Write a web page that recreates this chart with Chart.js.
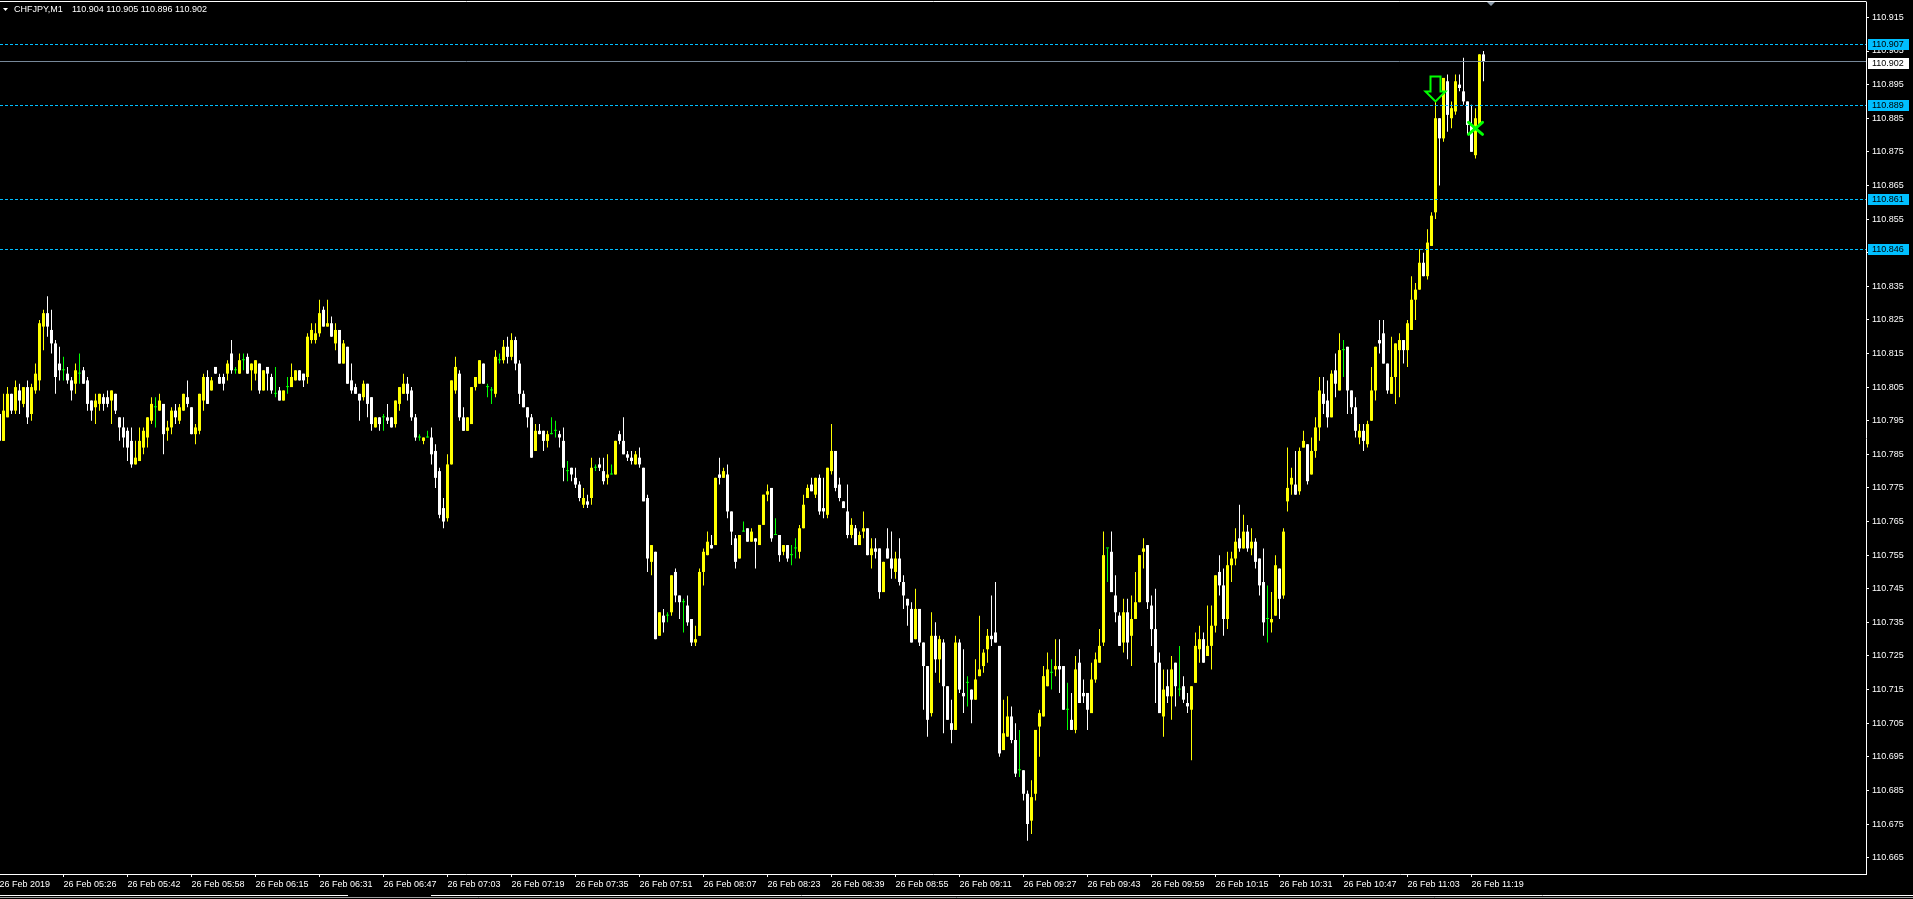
<!DOCTYPE html>
<html><head><meta charset="utf-8">
<script src="https://cdn.jsdelivr.net/npm/chart.js@4.4.1/dist/chart.umd.min.js"></script>
<style>
html,body{margin:0;padding:0;background:#000;overflow:hidden}
#wrap{position:absolute;left:0;top:0;width:1913px;height:899px}
canvas{display:block}
</style></head><body>
<div id="wrap"><canvas id="c" width="1913" height="899"></canvas></div>
<script>
// ---------------- data (CHFJPY, M1, 26 Feb 2019 05:10 .. 11:21) ----------------
const chartSymbol = "CHFJPY,M1";
const chartOHLC = "110.904 110.905 110.896 110.902";

const openP = [
110.797,110.789,110.796,110.803,110.798,110.804,110.800,110.805,110.797,110.804,
110.807,110.823,110.827,110.822,110.818,110.812,110.810,110.809,110.807,110.806,
110.809,110.810,110.807,110.801,110.799,110.800,110.802,110.802,110.801,110.803,
110.796,110.793,110.792,110.789,110.782,110.783,110.787,110.790,110.795,110.799,
110.798,110.800,110.792,110.793,110.798,110.795,110.798,110.802,110.799,110.791,
110.792,110.801,110.808,110.804,110.811,110.808,110.808,110.809,110.815,110.810,
110.809,110.813,110.814,110.810,110.809,110.812,110.804,110.811,110.808,110.803,
110.804,110.801,110.805,110.805,110.807,110.810,110.809,110.808,110.819,110.819,
110.821,110.828,110.823,110.824,110.818,110.822,110.812,110.817,110.807,110.805,
110.803,110.802,110.806,110.802,110.793,110.796,110.796,110.796,110.796,110.794,
110.800,110.803,110.806,110.804,110.796,110.790,110.789,110.790,110.790,110.786,
110.780,110.769,110.766,110.782,110.804,110.809,110.796,110.792,110.794,110.805,
110.806,110.812,110.805,110.804,110.803,110.813,110.813,110.817,110.814,110.819,
110.812,110.803,110.799,110.796,110.786,110.792,110.792,110.789,110.791,110.792,
110.791,110.789,110.780,110.781,110.778,110.776,110.770,110.771,110.772,110.781,
110.782,110.780,110.778,110.779,110.779,110.791,110.789,110.785,110.784,110.782,
110.784,110.781,110.772,110.753,110.756,110.731,110.737,110.737,110.738,110.750,
110.743,110.741,110.740,110.736,110.729,110.731,110.750,110.755,110.758,110.758,
110.779,110.778,110.779,110.768,110.760,110.754,110.762,110.763,110.759,110.760,
110.758,110.764,110.773,110.775,110.761,110.761,110.756,110.758,110.755,110.757,
110.756,110.763,110.772,110.776,110.773,110.778,110.769,110.767,110.780,110.786,
110.776,110.771,110.768,110.761,110.763,110.758,110.762,110.763,110.755,110.757,
110.757,110.744,110.757,110.754,110.750,110.754,110.747,110.742,110.739,110.730,
110.739,110.729,110.722,110.708,110.731,110.724,110.729,110.716,110.705,110.703,
110.729,110.714,110.717,110.715,110.712,110.719,110.722,110.727,110.731,110.732,
110.728,110.697,110.701,110.707,110.700,110.691,110.691,110.684,110.676,110.684,
110.704,110.707,110.716,110.720,110.721,110.722,110.722,110.709,110.706,110.703,
110.723,110.714,110.714,110.708,110.718,110.723,110.729,110.757,110.756,110.743,
110.737,110.729,110.738,110.731,110.736,110.741,110.756,110.758,110.740,110.733,
110.723,110.707,110.716,110.713,110.723,110.715,110.716,110.711,110.709,110.717,
110.727,110.730,110.725,110.728,110.734,110.750,110.746,110.736,110.752,110.754,
110.760,110.757,110.762,110.757,110.759,110.754,110.747,110.736,110.735,110.737,
110.751,110.743,110.771,110.776,110.776,110.774,110.787,110.788,110.779,110.786,
110.793,110.803,110.801,110.796,110.810,110.804,110.816,110.817,110.804,110.799,
110.790,110.792,110.788,110.795,110.804,110.819,110.821,110.812,110.803,110.808,
110.816,110.819,110.816,110.822,110.831,110.834,110.842,110.838,110.847,110.857,
110.885,110.879,110.896,110.885,110.887,110.895,110.893,110.890,110.883,110.874,
110.883,110.904];

const highP = [
110.797,110.803,110.805,110.803,110.807,110.806,110.805,110.807,110.806,110.812,
110.825,110.828,110.832,110.828,110.819,110.817,110.814,110.811,110.808,110.812,
110.815,110.811,110.808,110.801,110.803,110.803,110.803,110.804,110.804,110.803,
110.796,110.796,110.793,110.793,110.789,110.793,110.793,110.796,110.802,110.802,
110.803,110.800,110.795,110.799,110.800,110.800,110.803,110.807,110.799,110.794,
110.803,110.809,110.810,110.808,110.811,110.809,110.809,110.813,110.819,110.811,
110.815,110.815,110.815,110.812,110.813,110.812,110.810,110.811,110.809,110.811,
110.805,110.804,110.808,110.812,110.810,110.810,110.809,110.821,110.824,110.824,
110.831,110.829,110.831,110.826,110.824,110.822,110.819,110.817,110.812,110.806,
110.803,110.807,110.806,110.802,110.796,110.796,110.797,110.800,110.796,110.801,
110.805,110.809,110.808,110.805,110.797,110.791,110.790,110.792,110.793,110.788,
110.781,110.772,110.785,110.807,110.814,110.810,110.799,110.796,110.805,110.808,
110.813,110.812,110.806,110.805,110.816,110.815,110.819,110.820,110.821,110.820,
110.813,110.804,110.799,110.797,110.794,110.794,110.792,110.792,110.796,110.795,
110.792,110.793,110.783,110.781,110.781,110.777,110.775,110.773,110.784,110.782,
110.784,110.784,110.785,110.782,110.789,110.792,110.796,110.786,110.786,110.786,
110.787,110.781,110.773,110.758,110.756,110.738,110.739,110.738,110.749,110.751,
110.743,110.742,110.743,110.736,110.734,110.751,110.757,110.762,110.761,110.778,
110.784,110.781,110.782,110.768,110.761,110.761,110.765,110.763,110.763,110.760,
110.764,110.773,110.776,110.775,110.766,110.761,110.758,110.758,110.758,110.760,
110.764,110.773,110.776,110.778,110.778,110.779,110.778,110.781,110.794,110.786,
110.778,110.771,110.776,110.766,110.764,110.762,110.768,110.763,110.760,110.760,
110.757,110.753,110.763,110.762,110.756,110.760,110.749,110.742,110.741,110.745,
110.739,110.729,110.722,110.738,110.735,110.731,110.730,110.716,110.712,110.731,
110.730,110.727,110.719,110.715,110.724,110.737,110.727,110.733,110.743,110.747,
110.728,110.712,110.713,110.710,110.705,110.703,110.691,110.685,110.688,110.703,
110.709,110.722,110.726,110.724,110.730,110.730,110.722,110.717,110.714,110.725,
110.727,110.718,110.714,110.723,110.726,110.733,110.762,110.757,110.762,110.749,
110.738,110.742,110.742,110.743,110.750,110.755,110.760,110.758,110.743,110.745,
110.726,110.721,110.721,110.725,110.723,110.728,110.719,110.714,110.716,110.732,
110.734,110.732,110.740,110.740,110.749,110.755,110.751,110.756,110.756,110.763,
110.770,110.767,110.764,110.763,110.760,110.754,110.757,110.746,110.744,110.755,
110.751,110.763,110.787,110.781,110.786,110.787,110.792,110.788,110.790,110.796,
110.808,110.808,110.807,110.810,110.815,110.821,110.819,110.817,110.804,110.802,
110.794,110.794,110.795,110.811,110.817,110.825,110.825,110.812,110.820,110.818,
110.821,110.819,110.825,110.838,110.836,110.846,110.845,110.852,110.857,110.890,
110.885,110.897,110.898,110.890,110.898,110.898,110.903,110.890,110.889,110.888,
110.904,110.905];

const lowP = [
110.788,110.789,110.796,110.797,110.797,110.797,110.799,110.794,110.795,110.803,
110.804,110.816,110.820,110.815,110.803,110.807,110.807,110.806,110.801,110.803,
110.806,110.806,110.798,110.795,110.794,110.798,110.798,110.799,110.794,110.797,
110.789,110.787,110.783,110.781,110.782,110.783,110.785,110.787,110.794,110.793,
110.798,110.785,110.789,110.791,110.794,110.794,110.798,110.799,110.791,110.788,
110.791,110.798,110.800,110.804,110.809,110.806,110.804,110.807,110.809,110.809,
110.809,110.810,110.809,110.804,110.807,110.803,110.804,110.804,110.803,110.802,
110.801,110.801,110.803,110.805,110.807,110.807,110.805,110.806,110.818,110.818,
110.820,110.823,110.823,110.820,110.816,110.812,110.812,110.806,110.803,110.803,
110.795,110.801,110.796,110.792,110.793,110.792,110.792,110.794,110.793,110.793,
110.798,110.803,110.801,110.795,110.789,110.789,110.788,110.790,110.782,110.775,
110.766,110.763,110.765,110.782,110.803,110.795,110.792,110.792,110.794,110.804,
110.806,110.806,110.802,110.800,110.802,110.812,110.812,110.812,110.813,110.810,
110.800,110.799,110.793,110.784,110.786,110.791,110.786,110.787,110.791,110.790,
110.787,110.777,110.777,110.777,110.775,110.771,110.769,110.769,110.770,110.780,
110.780,110.776,110.776,110.779,110.779,110.788,110.785,110.783,110.782,110.782,
110.781,110.771,110.750,110.749,110.730,110.731,110.732,110.735,110.737,110.741,
110.736,110.732,110.734,110.728,110.728,110.731,110.746,110.755,110.757,110.758,
110.776,110.778,110.766,110.758,110.751,110.754,110.762,110.759,110.759,110.751,
110.758,110.764,110.771,110.759,110.761,110.753,110.755,110.753,110.752,110.754,
110.754,110.763,110.772,110.774,110.772,110.767,110.766,110.766,110.779,110.774,
110.771,110.769,110.760,110.760,110.758,110.758,110.760,110.755,110.751,110.754,
110.742,110.744,110.754,110.748,110.748,110.746,110.739,110.734,110.729,110.730,
110.728,110.709,110.701,110.707,110.720,110.717,110.702,110.706,110.699,110.703,
110.714,110.708,110.710,110.705,110.712,110.719,110.720,110.723,110.728,110.729,
110.695,110.697,110.701,110.699,110.689,110.689,110.682,110.670,110.672,110.682,
110.695,110.707,110.716,110.715,110.719,110.714,110.709,110.703,110.703,110.702,
110.711,110.711,110.703,110.708,110.717,110.723,110.728,110.747,110.744,110.735,
110.728,110.726,110.724,110.722,110.736,110.741,110.751,110.739,110.728,110.711,
110.708,110.701,110.711,110.706,110.710,110.713,110.711,110.708,110.694,110.717,
110.723,110.723,110.725,110.721,110.732,110.743,110.731,110.733,110.747,110.752,
110.756,110.757,110.756,110.755,110.751,110.743,110.731,110.729,110.732,110.737,
110.736,110.742,110.768,110.773,110.773,110.773,110.787,110.776,110.779,110.784,
110.789,110.797,110.793,110.796,110.802,110.804,110.808,110.797,110.797,110.790,
110.788,110.786,110.787,110.795,110.801,110.815,110.812,110.803,110.803,110.800,
110.802,110.812,110.811,110.822,110.825,110.834,110.838,110.837,110.847,110.855,
110.865,110.878,110.881,110.882,110.886,110.893,110.889,110.880,110.875,110.873,
110.883,110.896];

const closeP = [
110.789,110.798,110.803,110.798,110.805,110.801,110.805,110.796,110.805,110.809,
110.824,110.827,110.823,110.818,110.808,110.810,110.810,110.807,110.804,110.810,
110.809,110.806,110.800,110.798,110.801,110.803,110.800,110.800,110.804,110.798,
110.793,110.790,110.787,110.782,110.784,110.789,110.792,110.796,110.800,110.799,
110.801,110.791,110.793,110.798,110.796,110.799,110.803,110.800,110.791,110.793,
110.803,110.808,110.800,110.807,110.809,110.806,110.806,110.812,110.810,110.810,
110.813,110.813,110.809,110.812,110.813,110.804,110.810,110.809,110.804,110.803,
110.801,110.804,110.805,110.808,110.810,110.807,110.807,110.820,110.822,110.821,
110.827,110.823,110.824,110.820,110.822,110.812,110.818,110.806,110.804,110.803,
110.801,110.806,110.800,110.794,110.796,110.794,110.796,110.795,110.793,110.801,
110.805,110.806,110.803,110.796,110.790,110.790,110.790,110.790,110.785,110.778,
110.767,110.765,110.782,110.807,110.811,110.796,110.792,110.796,110.805,110.808,
110.813,110.806,110.805,110.804,110.814,110.813,110.817,110.814,110.819,110.812,
110.803,110.799,110.796,110.784,110.792,110.791,110.789,110.791,110.791,110.792,
110.790,110.781,110.780,110.779,110.776,110.772,110.772,110.770,110.781,110.781,
110.781,110.777,110.779,110.779,110.789,110.789,110.785,110.784,110.783,110.785,
110.782,110.771,110.754,110.758,110.730,110.738,110.735,110.737,110.749,110.743,
110.741,110.741,110.735,110.729,110.730,110.750,110.756,110.759,110.757,110.778,
110.778,110.780,110.768,110.762,110.753,110.761,110.762,110.759,110.762,110.759,
110.764,110.773,110.774,110.760,110.761,110.755,110.758,110.754,110.755,110.757,
110.763,110.770,110.775,110.774,110.778,110.768,110.768,110.781,110.786,110.775,
110.772,110.769,110.761,110.764,110.758,110.761,110.763,110.755,110.757,110.756,
110.744,110.753,110.754,110.751,110.754,110.747,110.743,110.740,110.729,110.739,
110.729,110.722,110.706,110.731,110.724,110.730,110.716,110.706,110.703,110.729,
110.715,110.713,110.717,110.712,110.718,110.721,110.726,110.731,110.730,110.729,
110.696,110.702,110.707,110.700,110.690,110.691,110.684,110.675,110.683,110.703,
110.708,110.719,110.721,110.720,110.722,110.721,110.709,110.709,110.703,110.721,
110.711,110.713,110.709,110.718,110.724,110.728,110.755,110.757,110.744,110.738,
110.728,110.738,110.729,110.736,110.741,110.755,110.757,110.741,110.733,110.723,
110.708,110.715,110.713,110.721,110.716,110.715,110.712,110.710,110.716,110.728,
110.730,110.723,110.728,110.734,110.749,110.746,110.736,110.752,110.754,110.759,
110.757,110.762,110.757,110.759,110.753,110.746,110.735,110.736,110.736,110.752,
110.742,110.762,110.775,110.778,110.773,110.786,110.789,110.777,110.786,110.793,
110.804,110.800,110.796,110.809,110.806,110.816,110.816,110.804,110.799,110.792,
110.792,110.789,110.794,110.804,110.817,110.818,110.812,110.804,110.808,110.818,
110.819,110.816,110.824,110.831,110.834,110.842,110.838,110.848,110.856,110.885,
110.879,110.897,110.886,110.888,110.896,110.894,110.890,110.883,110.875,110.885,
110.904,110.902];

// time axis: bar index of each label and its text
const timeTickBars = [0,16,32,48,64,80,96,112,128,144,160,176,192,208,224,240,256,272,288,304,320,336,352,368];
const timeTickLabels = ["26 Feb 2019","26 Feb 05:26","26 Feb 05:42","26 Feb 05:58","26 Feb 06:15","26 Feb 06:31",
  "26 Feb 06:47","26 Feb 07:03","26 Feb 07:19","26 Feb 07:35","26 Feb 07:51","26 Feb 08:07","26 Feb 08:23",
  "26 Feb 08:39","26 Feb 08:55","26 Feb 09:11","26 Feb 09:27","26 Feb 09:43","26 Feb 09:59","26 Feb 10:15",
  "26 Feb 10:31","26 Feb 10:47","26 Feb 11:03","26 Feb 11:19"];
// price axis labels
const priceTicks = [110.665,110.675,110.685,110.695,110.705,110.715,110.725,110.735,110.745,110.755,110.765,
  110.775,110.785,110.795,110.805,110.815,110.825,110.835,110.845,110.855,110.865,110.875,110.885,110.895,110.905,110.915];
// horizontal objects
const levelLines = [110.907, 110.889, 110.861, 110.846];
const bidPrice = 110.902;
const sellArrowBar = 359, sellArrowPrice = 110.890;
const closeMarkBar = 369, closeMarkPrice = 110.882;

// ---------------- style ----------------
const BULL = '#FFFF00', BEAR = '#FFFFFF', DOJI = '#00FF00';
const LEVEL_COLOR = '#00BFFF', BID_COLOR = '#778899', MARK_COLOR = '#00FF00';
const FONT = "'Liberation Sans', Arial, sans-serif";
const PLOT_W = 1866, AXIS_W = 47, XAXIS_H = 25, TOP_PAD = 2, BAR_PX = 4;

const idx = openP.map((_, i) => i);
const candleColor = idx.map(i => closeP[i] > openP[i] ? BULL : (closeP[i] < openP[i] ? BEAR : DOJI));
const wickData = idx.map(i => ({x: i, y: [lowP[i], highP[i]]}));
const bodyData = idx.map(i => ({x: i, y: [Math.min(openP[i], closeP[i]), Math.max(openP[i], closeP[i])]}));

const overlay = {
  id: 'overlay',
  afterDatasetsDraw(chart) {
    const {ctx, chartArea: a, scales: {x, y}} = chart;
    ctx.save();
    ctx.beginPath(); ctx.rect(a.left, a.top, a.right - a.left, a.bottom - a.top); ctx.clip();
    ctx.lineWidth = 1;
    // bid line
    ctx.strokeStyle = BID_COLOR; ctx.setLineDash([]);
    let py = Math.round(y.getPixelForValue(bidPrice)) + 0.5;
    ctx.beginPath(); ctx.moveTo(a.left, py); ctx.lineTo(a.right, py); ctx.stroke();
    // dashed levels
    ctx.strokeStyle = LEVEL_COLOR; ctx.setLineDash([3, 2]);
    levelLines.forEach(v => {
      const p = Math.round(y.getPixelForValue(v)) + 0.5;
      ctx.beginPath(); ctx.moveTo(a.left, p); ctx.lineTo(a.right, p); ctx.stroke();
    });
    ctx.setLineDash([]);
    // sell arrow (hollow down arrow, tip at price)
    const ax = x.getPixelForValue(sellArrowBar), ay = y.getPixelForValue(sellArrowPrice);
    ctx.beginPath();
    ctx.moveTo(ax - 5, ay - 25); ctx.lineTo(ax + 5, ay - 25); ctx.lineTo(ax + 5, ay - 10);
    ctx.lineTo(ax + 10, ay - 10); ctx.lineTo(ax, ay); ctx.lineTo(ax - 10, ay - 10);
    ctx.lineTo(ax - 5, ay - 10); ctx.closePath();
    ctx.fillStyle = '#000'; ctx.fill();
    ctx.strokeStyle = MARK_COLOR; ctx.lineWidth = 2; ctx.lineJoin = 'miter'; ctx.stroke();
    // close mark (X)
    const cx = x.getPixelForValue(closeMarkBar), cy = y.getPixelForValue(closeMarkPrice);
    ctx.lineWidth = 3; ctx.lineCap = 'round';
    ctx.beginPath();
    ctx.moveTo(cx - 7, cy - 6); ctx.lineTo(cx + 7, cy + 6);
    ctx.moveTo(cx + 7, cy - 6); ctx.lineTo(cx - 7, cy + 6);
    ctx.stroke();
    ctx.restore();
  },
  afterDraw(chart) {
    const {ctx, chartArea: a, scales: {y}} = chart;
    ctx.save();
    // frame top line
    ctx.strokeStyle = '#FFFFFF'; ctx.lineWidth = 1;
    ctx.beginPath(); ctx.moveTo(0, 1.5); ctx.lineTo(a.right + 0.5, 1.5); ctx.stroke();
    // price boxes on the axis
    ctx.font = '9px ' + FONT; ctx.textBaseline = 'middle'; ctx.textAlign = 'left';
    const box = (v, bg, dy) => {
      const p = Math.round(y.getPixelForValue(v)) + dy;
      ctx.fillStyle = bg; ctx.fillRect(a.right + 2, p - 5, 41, 11);
      ctx.fillStyle = '#000'; ctx.fillText(v.toFixed(3), a.right + 6, p + 0.5);
    };
    levelLines.forEach(v => box(v, LEVEL_COLOR, 0));
    box(bidPrice, '#FFFFFF', 2);
    // title
    ctx.fillStyle = '#FFFFFF';
    ctx.beginPath(); ctx.moveTo(3, 8); ctx.lineTo(8, 8); ctx.lineTo(5.5, 11); ctx.closePath(); ctx.fill();
    ctx.fillText(chartSymbol, 14, 10);
    ctx.fillText(chartOHLC, 72, 10);
    // chart-shift marker
    ctx.fillStyle = '#8C9BAA';
    ctx.beginPath(); ctx.moveTo(1487, 2); ctx.lineTo(1495, 2); ctx.lineTo(1491, 6); ctx.closePath(); ctx.fill();
    // window tab bar
    ctx.strokeStyle = '#FFFFFF';
    ctx.beginPath(); ctx.moveTo(0, 895.5); ctx.lineTo(348, 895.5); ctx.moveTo(431, 895.5); ctx.lineTo(1913, 895.5); ctx.stroke();
    ctx.strokeStyle = '#A0A0A0';
    ctx.beginPath(); ctx.moveTo(0, 897.5); ctx.lineTo(1913, 897.5); ctx.stroke();
    ctx.restore();
  }
};

new Chart(document.getElementById('c'), {
  type: 'bar',
  data: {
    datasets: [
      {label: 'body', data: bodyData, backgroundColor: candleColor, barThickness: 3, grouped: false,
       minBarLength: 1, inflateAmount: 0, borderWidth: 0, order: 0},
      {label: 'wick', data: wickData, backgroundColor: candleColor, barThickness: 1, grouped: false,
       minBarLength: 1, inflateAmount: 0, borderWidth: 0, order: 1}
    ]
  },
  options: {
    responsive: false, animation: false, devicePixelRatio: 1,
    layout: {padding: {top: TOP_PAD, left: 0, right: 0, bottom: 0}},
    plugins: {legend: {display: false}, tooltip: {enabled: false}, title: {display: false}},
    scales: {
      x: {
        type: 'linear', position: 'bottom', offset: false,
        min: 0.125, max: 0.125 + PLOT_W / BAR_PX,
        afterBuildTicks: s => { s.ticks = timeTickBars.map(v => ({value: v})); },
        afterFit: s => { s.height = XAXIS_H; s.paddingLeft = 0; s.paddingRight = 0; },
        ticks: {autoSkip: false, maxRotation: 0, minRotation: 0, align: 'start', color: '#FFFFFF',
                padding: 2, font: {family: FONT, size: 9},
                callback: v => timeTickLabels[timeTickBars.indexOf(v)]},
        grid: {display: true, drawOnChartArea: false, drawTicks: true, tickLength: 3, color: '#FFFFFF', offset: false},
        border: {display: true, color: '#FFFFFF', width: 1}
      },
      y: {
        type: 'linear', position: 'right',
        min: 110.66013, max: 110.91958,
        afterBuildTicks: s => { s.ticks = priceTicks.map(v => ({value: v})); },
        afterFit: s => { s.width = AXIS_W; s.paddingTop = 0; s.paddingBottom = 0; },
        ticks: {autoSkip: false, color: '#FFFFFF', padding: 3, font: {family: FONT, size: 9},
                callback: v => v.toFixed(3)},
        grid: {display: true, drawOnChartArea: false, drawTicks: true, tickLength: 3, color: '#FFFFFF'},
        border: {display: true, color: '#FFFFFF', width: 1}
      }
    }
  },
  plugins: [overlay]
});
</script>
</body></html>
